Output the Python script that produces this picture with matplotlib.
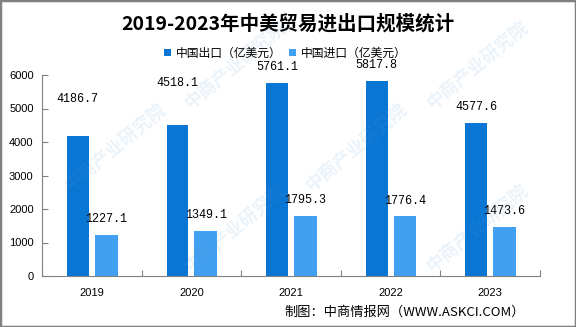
import numpy as np
import matplotlib.pyplot as plt
from matplotlib.patches import Rectangle

plt.rcParams['font.family'] = ['Noto Sans CJK SC', 'DejaVu Sans']

years = ['2019', '2020', '2021', '2022', '2023']
export = [4186.7, 4518.1, 5761.1, 5817.8, 4577.6]
imports = [1227.1, 1349.1, 1795.3, 1776.4, 1473.6]
yticks = [0, 1000, 2000, 3000, 4000, 5000, 6000]

c_exp = '#0a76d4'
c_imp = '#41a0f1'
gray = '#808080'
# extra lift (points) of the value labels above each bar
lift_exp = [22, 26, 7, 7, 7]
lift_imp = [7, 7, 7, 7, 7]

fig = plt.figure(figsize=(5.76, 3.27), dpi=100)
ax = fig.add_axes([42 / 576, 1 - 276 / 327, 498 / 576, 201 / 327])

x = np.arange(len(years))
b1 = ax.bar(x - 0.14, export, 0.22, color=c_exp, label='中国出口（亿美元）', zorder=2)
b2 = ax.bar(x + 0.145, imports, 0.23, color=c_imp, label='中国进口（亿美元）', zorder=2)

for bars, vals, lifts in [(b1, export, lift_exp), (b2, imports, lift_imp)]:
    for r, v, d in zip(bars, vals, lifts):
        ax.annotate('{:.1f}'.format(v), (r.get_x() + r.get_width() / 2, v),
                    xytext=(0, d), textcoords='offset points',
                    ha='center', va='bottom', fontsize=8.5,
                    family='Liberation Mono', zorder=3)

ax.set_xlim(-0.5, len(years) - 0.5)
ax.set_ylim(0, 6000)
ax.set_yticks(yticks)
ax.set_yticklabels([str(t) for t in yticks], family='Liberation Sans', fontsize=8)
ax.set_xticks(np.arange(-0.5, len(years)), minor=False)
ax.set_xticklabels([])
ax.set_xticks(x, minor=True)
ax.set_xticklabels(years, minor=True, family='Liberation Sans', fontsize=8)
ax.tick_params(axis='x', which='minor', length=0, pad=9)
ax.tick_params(axis='x', which='major', direction='in', length=4, color=gray)
ax.tick_params(axis='y', direction='in', length=4, color=gray, pad=6)
for s in ['top', 'right']:
    ax.spines[s].set_visible(False)
for s in ['left', 'bottom']:
    ax.spines[s].set_color(gray)

fig.text(0.5, 1 - 24 / 327, '2019-2023年中美贸易进出口规模统计',
         ha='center', va='center', fontsize=14, fontweight='bold')
fig.legend(handles=[b1, b2], loc='center', bbox_to_anchor=(0.495, 1 - 53 / 327),
           ncol=2, frameon=False, fontsize=8.5, handlelength=0.6, handleheight=0.6,
           handletextpad=0.4, columnspacing=0.6)
fig.text(0.912, 1 - 312 / 327, '制图：中商情报网（WWW.ASKCI.COM）',
         ha='right', va='center', fontsize=9.5)

# faint site watermark
for wx, wy in [(0.20, 0.55), (0.62, 0.55), (0.41, 0.30), (0.83, 0.30),
               (0.41, 0.80), (0.83, 0.80)]:
    fig.text(wx, wy, '中商产业研究院', rotation=40, ha='center', va='center',
             fontsize=13, fontweight='bold', color='#5b9bd5', alpha=0.12, zorder=5)

fig.patches.append(Rectangle((0, 0), 1, 1, transform=fig.transFigure,
                             fill=False, edgecolor=gray, linewidth=2.5))

fig.savefig('out.png', dpi=100)
